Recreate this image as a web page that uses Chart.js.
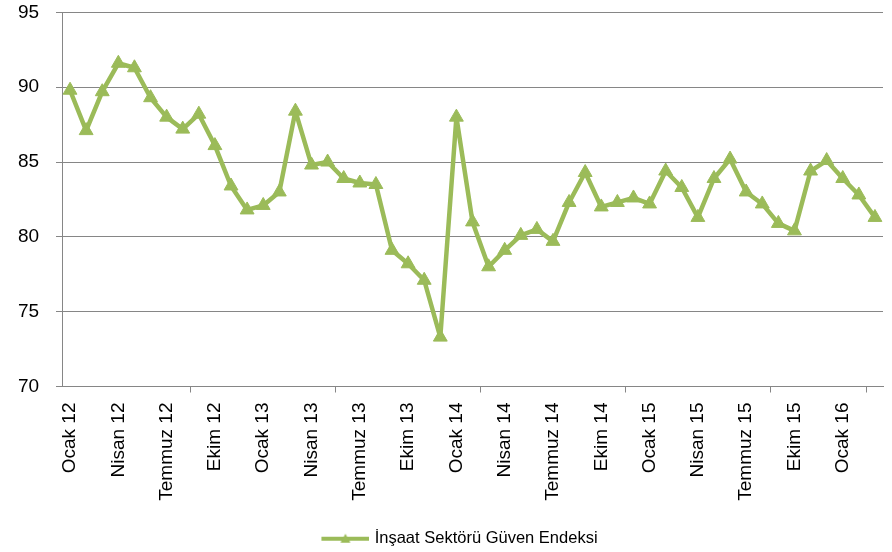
<!DOCTYPE html>
<html>
<head>
<meta charset="utf-8">
<script src="https://cdn.jsdelivr.net/npm/chart.js@4"></script>
<style>
  html, body { margin: 0; padding: 0; background: #fff; }
  #wrap { width: 892px; height: 552px; }
</style>
</head>
<body>
<div id="wrap"><canvas id="lineCanvas" width="892" height="552"></canvas></div>
<script>
const months = ["Ocak", "Şubat", "Mart", "Nisan", "Mayıs", "Haziran", "Temmuz", "Ağustos", "Eylül", "Ekim", "Kasım", "Aralık"];
const years = ["12", "13", "14", "15", "16"];

// Ocak 12 .. Mart 16
const labels = [];
years.forEach(y => months.forEach(m => labels.push(m + " " + y)));
labels.length = 51;

const guvenEndeksi = [
    89.8, 87.1, 89.7, 91.6, 91.3, 89.3, 88.0, 87.2, 88.2, 86.1, 83.4, 81.8,
    82.1, 83.0, 88.4, 84.8, 85.0, 83.9, 83.6, 83.5, 79.1, 78.2, 77.1, 73.3,
    88.0, 81.0, 78.0, 79.1, 80.1, 80.5, 79.7, 82.3, 84.3, 82.0, 82.3, 82.6,
    82.2, 84.4, 83.3, 81.3, 83.9, 85.2, 83.0, 82.2, 80.9, 80.4, 84.4, 85.1,
    83.9, 82.8, 81.3
];
const yTicks = [70, 75, 80, 85, 90, 95];

const green = "#9BBB59";
const gray = "#868686";
const font = "'Liberation Sans', Arial, sans-serif";

// legend sample: line with a triangle in the middle (left part left blank)
const sample = document.createElement("canvas");
sample.width = 68;
sample.height = 14;
const sc = sample.getContext("2d");
sc.strokeStyle = green;
sc.lineWidth = 4;
sc.beginPath();
sc.moveTo(20, 7);
sc.lineTo(68, 7);
sc.stroke();
sc.fillStyle = green;
sc.beginPath();
sc.moveTo(44, 2);
sc.lineTo(49, 11);
sc.lineTo(39, 11);
sc.closePath();
sc.fill();

const lineChart = new Chart(document.getElementById("lineCanvas"), {
    type: "line",
    data: {
        labels: labels,
        datasets: [{
            label: "İnşaat Sektörü Güven Endeksi",
            data: guvenEndeksi,
            borderColor: green,
            backgroundColor: green,
            borderWidth: 4.5,
            borderJoinStyle: "round",
            tension: 0,
            pointStyle: "triangle",
            pointRadius: 8,
            pointBorderWidth: 1,
            pointBackgroundColor: green,
            pointBorderColor: green
        }]
    },
    options: {
        responsive: false,
        animation: false,
        layout: {
            padding: { top: 0, right: 8, left: 18, bottom: -5 }
        },
        plugins: {
            tooltip: { enabled: false },
            legend: {
                position: "bottom",
                labels: {
                    usePointStyle: true,
                    pointStyleWidth: 62,
                    color: "#000",
                    padding: 7,
                    font: { family: font, size: 16.5 },
                    generateLabels: chart => [{
                        text: chart.data.datasets[0].label,
                        pointStyle: sample,
                        fillStyle: green,
                        strokeStyle: green,
                        lineWidth: 0,
                        datasetIndex: 0
                    }]
                }
            }
        },
        scales: {
            y: {
                min: 70,
                max: 95,
                afterFit: s => { s.width = 44; },
                afterBuildTicks: s => { s.ticks = yTicks.map(v => ({ value: v })); },
                ticks: {
                    color: "#000",
                    padding: 1,
                    crossAlign: "far",
                    font: { family: font, size: 19 }
                },
                grid: {
                    color: gray,
                    lineWidth: 1,
                    tickLength: 6
                },
                border: { color: gray, width: 1 }
            },
            x: {
                offset: true,
                afterFit: s => { s.height = 137; },
                ticks: {
                    color: "#000",
                    autoSkip: false,
                    minRotation: 90,
                    maxRotation: 90,
                    padding: 10,
                    font: { family: font, size: 19 },
                    callback: function (value, index) {
                        return index % 3 === 0 ? this.getLabelForValue(value) : null;
                    }
                },
                grid: {
                    offset: true,
                    drawOnChartArea: false,
                    tickLength: 6,
                    color: ctx => (ctx.index === undefined || ctx.index % 3 === 0) ? gray : "rgba(0,0,0,0)"
                },
                border: { color: gray, width: 1 }
            }
        }
    }
});
</script>
</body>
</html>
